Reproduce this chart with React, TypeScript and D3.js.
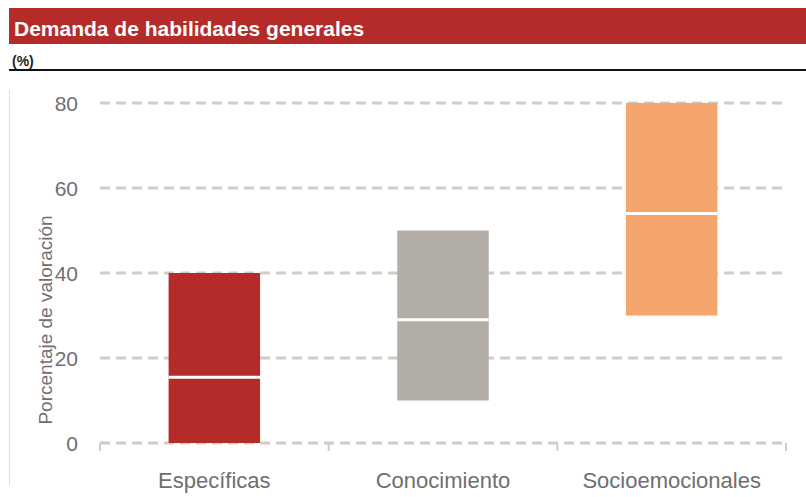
import React, { useEffect, useRef } from 'react';
import * as d3 from 'd3';

// Data
const categories = ['Específicas', 'Conocimiento', 'Socioemocionales'];
const lowValues = [0, 10, 30];
const highValues = [40, 50, 80];
const midValues = [15.5, 29, 54];
const barColors = ['#b52b29', '#b3ada8', '#f4a56c'];
const yTicks = [0, 20, 40, 60, 80];

const App = () => {
  const svgRef = useRef(null);

  useEffect(() => {
    const width = 806;
    const height = 497;
    const svg = d3.select(svgRef.current).attr('width', width).attr('height', height);
    svg.selectAll('*').remove();

    const font = 'Liberation Sans, Arial, sans-serif';

    // Header
    svg.append('rect').attr('x', 9).attr('y', 8).attr('width', width - 9).attr('height', 36).attr('fill', '#b52b29');
    svg.append('text')
      .attr('x', 14).attr('y', 36)
      .attr('fill', '#fff')
      .attr('font-family', font)
      .attr('font-weight', 'bold')
      .attr('font-size', 21)
      .text('Demanda de habilidades generales');
    svg.append('text')
      .attr('x', 12).attr('y', 66)
      .attr('fill', '#222')
      .attr('font-family', font)
      .attr('font-weight', 'bold')
      .attr('font-size', 14)
      .text('(%)');
    svg.append('line')
      .attr('x1', 9).attr('x2', width)
      .attr('y1', 70).attr('y2', 70)
      .attr('stroke', '#111').attr('stroke-width', 2);

    // thin left frame line
    svg.append('line')
      .attr('x1', 9.5).attr('x2', 9.5)
      .attr('y1', 90).attr('y2', 485)
      .attr('stroke', '#ddd').attr('stroke-width', 1);

    // Scales
    const x = d3.scaleBand().domain(categories).range([100, 786]).padding(0);
    const y = d3.scaleLinear().domain([0, 80]).range([443, 103]);
    const barW = x.bandwidth() * 0.4;

    const g = svg.append('g');

    // Gridlines (dashed)
    g.selectAll('.grid')
      .data(yTicks)
      .join('line')
      .attr('class', 'grid')
      .attr('x1', 100).attr('x2', 784)
      .attr('y1', (d) => y(d)).attr('y2', (d) => y(d))
      .attr('stroke', '#d3cbc4')
      .attr('stroke-width', 3)
      .attr('stroke-dasharray', '10,6');

    // x axis tick marks at band boundaries
    const bounds = [...categories.map((c) => x(c)), 786];
    g.selectAll('.xtick')
      .data(bounds)
      .join('line')
      .attr('class', 'xtick')
      .attr('x1', (d) => d).attr('x2', (d) => d)
      .attr('y1', y(0)).attr('y2', y(0) + 8)
      .attr('stroke', '#d3cbc4')
      .attr('stroke-width', 2);

    // Y tick labels
    g.selectAll('.ylabel')
      .data(yTicks)
      .join('text')
      .attr('class', 'ylabel')
      .attr('x', 78)
      .attr('y', (d) => y(d) + 8)
      .attr('text-anchor', 'end')
      .attr('fill', '#6f6f6f')
      .attr('font-family', font)
      .attr('font-size', 21)
      .text((d) => d);

    // Y axis title
    g.append('text')
      .attr('transform', `translate(52, 320) rotate(-90)`)
      .attr('text-anchor', 'middle')
      .attr('fill', '#6f6f6f')
      .attr('font-family', font)
      .attr('font-size', 19)
      .text('Porcentaje de valoración');

    // Bars
    g.selectAll('.bar')
      .data(categories)
      .join('rect')
      .attr('class', 'bar')
      .attr('x', (d) => x(d) + (x.bandwidth() - barW) / 2)
      .attr('y', (d, i) => y(highValues[i]))
      .attr('width', barW)
      .attr('height', (d, i) => y(lowValues[i]) - y(highValues[i]))
      .attr('fill', (d, i) => barColors[i]);

    // Median lines
    g.selectAll('.mid')
      .data(categories)
      .join('line')
      .attr('class', 'mid')
      .attr('x1', (d) => x(d) + (x.bandwidth() - barW) / 2)
      .attr('x2', (d) => x(d) + (x.bandwidth() + barW) / 2)
      .attr('y1', (d, i) => y(midValues[i]))
      .attr('y2', (d, i) => y(midValues[i]))
      .attr('stroke', '#fff')
      .attr('stroke-width', 3);

    // X labels
    g.selectAll('.xlabel')
      .data(categories)
      .join('text')
      .attr('class', 'xlabel')
      .attr('x', (d) => x(d) + x.bandwidth() / 2)
      .attr('y', 488)
      .attr('text-anchor', 'middle')
      .attr('fill', '#6f6f6f')
      .attr('font-family', font)
      .attr('font-size', 22)
      .text((d) => d);
  }, []);

  return (
    <svg ref={svgRef} style={{ position: 'absolute', left: 0, top: 0, background: '#fff' }}></svg>
  );
};

export default App;
